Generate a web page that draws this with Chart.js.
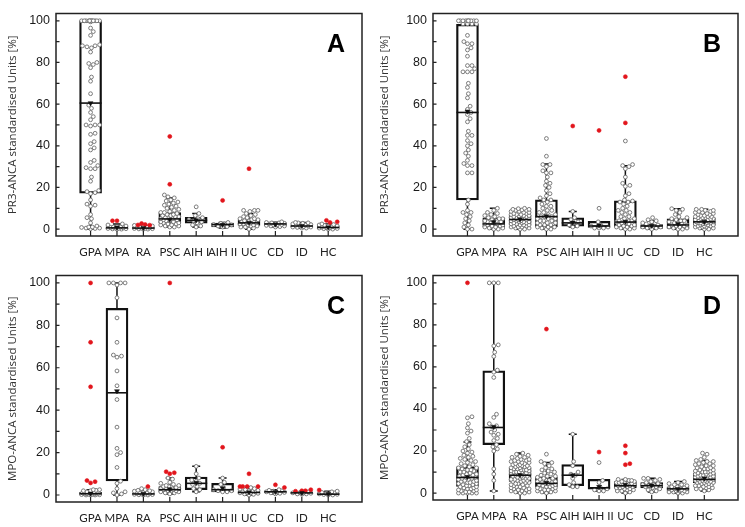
<!DOCTYPE html>
<html>
<head>
<meta charset="utf-8">
<script src="https://cdn.jsdelivr.net/npm/chart.js@4.4.0/dist/chart.umd.min.js"></script>
<style>
  body { margin: 0; background: #fff; }
  .panel { position: absolute; }
</style>
</head>
<body>
<div class="panel" style="left:0;top:0"><canvas id="chartA" width="372" height="262"></canvas></div>
<div class="panel" style="left:372px;top:0"><canvas id="chartB" width="373" height="262"></canvas></div>
<div class="panel" style="left:0;top:262px"><canvas id="chartC" width="372" height="265"></canvas></div>
<div class="panel" style="left:372px;top:262px"><canvas id="chartD" width="373" height="265"></canvas></div>
<script>
const categories = ['GPA', 'MPA', 'RA', 'PSC', 'AIH I', 'AIH II', 'UC', 'CD', 'ID', 'HC'];
const yTicks = [0, 10, 20, 30, 40, 50, 60, 70, 80, 90, 100];

// A: PR3-ANCA, assay 1
const aLow = [0, 0, 0, 1, 1, 0.5, 0, 1, 0.5, 0];
const aQ1 = [17.2, 0.2, 0.1, 2.9, 2.9, 1.1, 1.8, 1.5, 1, 0.3];
const aMed = [60.5, 0.6, 0.5, 4.9, 4.2, 2.2, 3, 2.5, 1.5, 0.8];
const aQ3 = [100, 1.2, 1, 8, 5.7, 2.9, 4.5, 3, 2, 1.5];
const aHigh = [100, 2.5, 1.8, 15, 7.5, 3.2, 7.5, 3.3, 3.2, 2.5];
const aMean = [60.5, 0.8, 0.6, 4.6, 4.3, 2.1, 3.1, 2.3, 1.6, 0.9];
const aPoints = [
  [100,100,100,100,100,100,100,100,100,100,100,100,99.5,96.5,94.8,93,88.5,88,88,87.5,87,85,80,79.5,79,77.5,73,71,65,59.5,58,56,54,52.5,50,50,50,49.5,46,45.5,42,41,39,38,33,32,30.5,29.5,29,29,25,23,18.5,18,17.5,17,14,12,11.5,11,7,5.5,5,3,1.5,1,1,0.8,0.5,0.5,0.3,0.2],
  [2.5,2,1.5,1.2,1,1,0.8,0.6,0.5,0.4,0.3,0.2,0.1,0,0],
  [1.8,1.5,1.2,1,1,0.8,0.6,0.5,0.4,0.3,0.2,0.1,0,0],
  [16.4,15.5,15,14,13.5,13,12.5,12,11.5,11,10.5,10,9.5,9,8.5,8,8,7.5,7,7,6.5,6.5,6,6,5.5,5.5,5,5,4.5,4.5,4,4,3.5,3.5,3,3,2.5,2.5,2,2,1.5,1.5,1,1],
  [10.7,7.5,6.5,5.5,5,4.5,4,3.5,3,2,1.5,1],
  [3.2,2.8,2.5,2.2,2,1.5,1.2,1],
  [9,9,9,8.5,7.5,7,6.5,6,5.5,5,5,4.5,4.5,4,4,3.5,3.5,3,3,3,2.5,2.5,2,2,1.5,1.5,1,1,0.5,0],
  [3.5,3.2,3,3,2.8,2.5,2.5,2.2,2,2,1.8,1.5,1.5,1.2,1],
  [3.2,3,3,2.8,2.5,2.2,2,1.8,1.5,1.5,1.2,1,1,0.8,0.5,0.5],
  [2.5,2.2,2,1.8,1.5,1.5,1.2,1,1,0.8,0.6,0.5,0.3,0.2,0,0]
];
const aRed = [[], [4, 4], [2.7, 2.2, 2, 1.9], [44.5, 21.5], [], [13.8], [29], [], [], [4.2, 3.5, 3.2]];

// B: PR3-ANCA, assay 2
const bLow = [0, 0, 0, 0, 1, 0.5, 0, 0, 0, 0];
const bQ1 = [14, 1.1, 2, 1.1, 1.4, 0.8, 1.1, 0.3, 0.3, 1.9];
const bMed = [56, 2.5, 4.6, 6, 3, 1.5, 3.4, 1.5, 2, 3.5];
const bQ3 = [98.3, 5.4, 6.6, 14.1, 5.4, 3.8, 13.6, 2.2, 4.9, 5.4];
const bHigh = [100, 10, 9.8, 31.3, 8.5, 3.8, 30.4, 4, 9.8, 9.5];
const bMean = [56.5, 3.5, 4.8, 6.2, 3.2, 1.8, 3.6, 1.7, 2.5, 3.6];
const bPoints = [
  [100,100,100,100,100,100,100,100,100,100,98.5,98.5,98.5,98.5,93,90,89,89,87,86,83,78.5,78.5,77,75.5,75.5,75.5,70,68,65,63,59,57.5,56,55,53,51.5,47,45,45,42.5,41,40,38,36.5,35,33,31.5,30.5,30.5,27,27,14,12,9,8,8,7,6,5,4,3,2,1,0,0],
  [10,9,8,7.5,7,6.5,6,5.5,5,5,4.5,4,4,3.5,3.5,3,3,2.5,2.5,2,2,1.5,1.5,1,1,0.5,0.5,0,0],
  [10,9.8,9.5,9.5,9.2,9,9,8.5,8.5,8,8,7.5,7.5,7,7,7,6.5,6.5,6,6,6,5.5,5.5,5.5,5,5,5,4.5,4.5,4.5,4,4,4,3.5,3.5,3.5,3,3,3,2.5,2.5,2,2,2,1.5,1.5,1,1,1,0.5,0.5,0,0],
  [43.5,35,31,31,30,28,27,27,25,23,22,21,20,18.5,17,16,15,14,14,13,12,11,11,10,9,9,8,8,7,7,6,6,6,5,5,5,4,4,4,3,3,3,2,2,2,1,1,1,0.5,0,0],
  [8.5,5.5,4.5,3.5,3,2,1.5,1],
  [10,3.5,2,1.5,1,0.5,0.5,0.5],
  [42.3,31,30.5,30,29,25,22,21,20.5,17,16,14,13.5,13,13,12,11,10,9,9,8,8,7,6,6,5,5,4,4,4,3.5,3,3,2.5,2,2,1.5,1.5,1,1,0.5,0.5,0,0],
  [5.5,4.5,4,3.5,3,2.5,2,1.5,1.5,1,1,0.5,0.5,0],
  [9.8,9.5,9,8,7,6,5.5,5,4.5,4,4,3.5,3,3,2.5,2,2,1.5,1.5,1,1,0.5,0.5,0,0],
  [9.5,9.5,9,9,8.5,8.5,8,8,7.5,7.5,7,7,6.5,6.5,6,6,6,5.5,5.5,5.5,5,5,5,4.5,4.5,4.5,4,4,4,4,3.5,3.5,3.5,3.5,3,3,3,3,2.5,2.5,2.5,2,2,2,1.5,1.5,1.5,1,1,1,0.5,0.5,0,0]
];
const bRed = [[], [], [], [], [49.5], [47.4], [73.2, 51], [], [], []];

// C: MPO-ANCA, assay 1
const cLow = [0, 0, 0, 0.5, 1.5, 1.5, 0, 0.5, 0.3, 0];
const cQ1 = [0.2, 6.6, 0.2, 1.5, 2.5, 1.5, 0.8, 1, 0.5, 0];
const cMed = [0.6, 48.2, 0.5, 2.5, 5.5, 2.5, 1.2, 1.5, 1, 0.4];
const cQ3 = [1.3, 88, 1, 4, 8.5, 5.5, 2, 2, 1.5, 1];
const cHigh = [2.5, 100, 2.5, 8, 13.5, 8, 3.5, 2.5, 1.5, 1.8];
const cMean = [0.7, 49, 0.6, 2.8, 5.8, 3.2, 1.3, 1.5, 1, 0.5];
const cPoints = [
  [2.5,2.5,2.2,2,2,1.8,1.5,1.5,1.2,1.2,1,1,1,0.8,0.8,0.6,0.5,0.5,0.4,0.3,0.2,0.2,0.1,0,0,0],
  [100,100,100,100,99,93,83.5,72,66,65.5,65,58.5,51.5,45,32,22,20,19,13,6.5,5.5,3,1.5,1,0.5,0],
  [3,2.5,2.2,2,1.8,1.5,1.2,1,1,0.8,0.6,0.5,0.4,0.3,0.2,0.1,0,0],
  [8,7.5,6,5.5,5,4.5,4.5,4,4,3.5,3.5,3,3,3,2.5,2.5,2.5,2,2,2,1.5,1.5,1,1,0.5],
  [13.5,10,8,7,6.5,5.5,5,4,3,2.5,1.5],
  [8,6,5,3.5,2.5,2,2,1.5,1.5],
  [3.5,3,2.8,2.5,2.2,2,1.8,1.5,1.5,1.2,1,1,0.8,0.5,0.3,0],
  [2.5,2.2,2,1.8,1.5,1.5,1.2,1,0.8,0.5],
  [1.5,1.2,1,1,0.8,0.5,0.5,0.3],
  [1.8,1.5,1.2,1,0.8,0.6,0.5,0.3,0.2,0,0]
];
const cRed = [[100, 72, 51, 6.8, 6.3, 5.7], [], [4], [100, 11, 10.5, 10], [], [22.5], [10, 4, 4, 4, 4], [4.8, 3.5], [2.5, 2, 2, 1.8], [2.3]];

// D: MPO-ANCA, assay 2
const dLow = [0, 1, 0, 0, 3, 1, 0, 0.5, 0, 1];
const dQ1 = [3.2, 23, 5.5, 3, 3.5, 1.8, 2.5, 2.5, 1, 5];
const dMed = [7.4, 31.2, 8.5, 4.6, 8.5, 2.5, 3.5, 3.5, 2, 6.5];
const dQ3 = [12.5, 58.2, 11.8, 7.5, 13.5, 6.5, 5.5, 5, 3, 9.5];
const dHigh = [24.3, 100, 19, 14.5, 28, 6.5, 6.5, 7, 5.5, 15.5];
const dMean = [7.7, 31.5, 8.6, 5, 8.5, 3, 4, 3.6, 2, 7];
const dPoints = [
  [36.3,35.8,33,31,29.5,28.5,26,24.5,23,22,21,20,19.5,19,18,17.5,17,16.5,16,15.5,15,14.5,14,13.5,13,12.5,12,12,11.5,11,11,10.5,10,10,9.5,9,9,8.5,8.5,8,8,7.5,7.5,7,7,6.5,6.5,6,6,5.5,5.5,5,5,4.5,4.5,4,4,3.5,3.5,3,3,2.5,2.5,2,2,1.5,1.5,1,1,0.5,0.5,0,0,0,0,0],
  [100,100,100,70.5,70,67,65,58.5,57.5,55,37.5,36,33,32,31.5,30,29,28,27.5,26,25,23,22,21,20,11.5,9,6,1],
  [19,18.5,18,17.5,17,17,16.5,16,16,15.5,15.5,15,15,14.5,14.5,14,14,13.5,13.5,13,13,13,12.5,12.5,12,12,12,11.5,11.5,11,11,11,10.5,10.5,10,10,10,9.5,9.5,9,9,9,8.5,8.5,8,8,8,7.5,7.5,7,7,7,6.5,6.5,6,6,6,5.5,5.5,5,5,4.5,4.5,4,4,3.5,3.5,3,3,2.5,2.5,2,2,1.5,1.5,1,1,0.5,0.5,0,0],
  [18.5,15,14.5,14,13,12,11.5,11,10.5,10,9.5,9,8.5,8,8,7.5,7,7,6.5,6,6,5.5,5.5,5,5,4.5,4.5,4,4,3.5,3.5,3,3,2.5,2.5,2,2,1.5,1.5,1,1,0.5,0.5,0],
  [28,15,13,10,9,8.5,7,5,4,3,3],
  [14.5,6,5,3,2,1.5,1,1],
  [6.5,6.5,6,6,5.5,5.5,5,5,5,4.5,4.5,4,4,4,3.5,3.5,3.5,3,3,3,2.5,2.5,2,2,1.5,1.5,1,1,0.5,0],
  [7,7,6.5,6,5.5,5,4.5,4,4,3.5,3.5,3,3,2.5,2,1.5,1,0.5],
  [5.5,5,4.5,4,4,3.5,3,3,2.5,2.5,2,2,2,1.5,1.5,1.5,1,1,1,0.5,0.5,0.5,0,0],
  [19,18.5,17,16,15.5,15,15,14.5,14,14,13.5,13,13,12.5,12,12,11.5,11.5,11,11,10.5,10.5,10,10,10,9.5,9.5,9,9,9,8.5,8.5,8.5,8,8,8,7.5,7.5,7.5,7,7,7,6.5,6.5,6.5,6,6,6,5.5,5.5,5.5,5,5,5,4.5,4.5,4,4,3.5,3.5,3,3,2.5,2.5,2,2,1.5,1]
];
const dRed = [[100], [], [], [78], [], [19.5], [22.5, 19, 14, 13.5], [], [], []];

const PR3_TITLE = 'PR3-ANCA standardised Units [%]';
const MPO_TITLE = 'MPO-ANCA standardised Units [%]';

const panels = [
  {id: 'chartA', letter: 'A', title: PR3_TITLE, low: aLow, q1: aQ1, med: aMed, q3: aQ3, high: aHigh, mean: aMean, points: aPoints, red: aRed, yw: 56, xh: 26, top: 5, right: 10},
  {id: 'chartB', letter: 'B', title: PR3_TITLE, low: bLow, q1: bQ1, med: bMed, q3: bQ3, high: bHigh, mean: bMean, points: bPoints, red: bRed, yw: 61, xh: 26, top: 4, right: 7},
  {id: 'chartC', letter: 'C', title: MPO_TITLE, low: cLow, q1: cQ1, med: cMed, q3: cQ3, high: cHigh, mean: cMean, points: cPoints, red: cRed, yw: 56, xh: 25, top: 5, right: 10},
  {id: 'chartD', letter: 'D', title: MPO_TITLE, low: dLow, q1: dQ1, med: dMed, q3: dQ3, high: dHigh, mean: dMean, points: dPoints, red: dRed, yw: 61, xh: 27, top: 5, right: 7}
];

// beeswarm layout (pixels per unit used only for dodging the dots sideways)
const PX_X = 29.3, PX_Y = 2.17, DOT = 4.4, SPREAD = 10;
function swarm(items, cat) {
  const placed = [];
  items.slice().sort((a, b) => a.v - b.v).forEach(it => {
    let best = 0, bestScore = -1;
    for (let k = 0; k <= 2 * SPREAD; k++) {
      const off = (k % 2 ? 1 : -1) * Math.ceil(k / 2);
      let minD = Infinity;
      placed.forEach(p => {
        const d = Math.hypot(off - p.off, (it.v - p.v) * PX_Y);
        if (d < minD) minD = d;
      });
      if (minD >= DOT) { best = off; break; }
      if (minD > bestScore) { bestScore = minD; best = off; }
    }
    placed.push({v: it.v, off: best, red: it.red});
  });
  return placed.map(p => ({x: cat + p.off / PX_X, y: p.v, red: p.red}));
}

function makeChart(p) {
  const grey = [], red = [];
  categories.forEach((c, i) => {
    const items = p.points[i].map(v => ({v, red: false})).concat(p.red[i].map(v => ({v, red: true})));
    swarm(items, i).forEach(pt => (pt.red ? red : grey).push({x: pt.x, y: pt.y}));
  });

  const boxPlugin = {
    id: 'boxWhisker',
    beforeDatasetsDraw(chart) {
      const {ctx, scales: {x, y}} = chart;
      ctx.save();
      ctx.strokeStyle = '#111';
      ctx.lineWidth = 1.5;
      categories.forEach((c, i) => {
        const cx = x.getPixelForValue(i);
        ctx.beginPath();
        ctx.moveTo(cx, y.getPixelForValue(p.q3[i]));
        ctx.lineTo(cx, y.getPixelForValue(p.high[i]));
        ctx.moveTo(cx, y.getPixelForValue(p.q1[i]));
        ctx.lineTo(cx, y.getPixelForValue(p.low[i]));
        if (p.high[i] > p.q3[i]) {
          ctx.moveTo(cx - 4, y.getPixelForValue(p.high[i]));
          ctx.lineTo(cx + 4, y.getPixelForValue(p.high[i]));
        }
        if (p.low[i] < p.q1[i]) {
          ctx.moveTo(cx - 4, y.getPixelForValue(p.low[i]));
          ctx.lineTo(cx + 4, y.getPixelForValue(p.low[i]));
        }
        ctx.stroke();
      });
      ctx.restore();
    },
    afterDatasetsDraw(chart) {
      const {ctx, scales: {x, y}} = chart;
      ctx.save();
      ctx.strokeStyle = '#111';
      ctx.lineWidth = 1.6;
      categories.forEach((c, i) => {
        const cx = x.getPixelForValue(i);
        const my = y.getPixelForValue(p.med[i]);
        ctx.beginPath();
        ctx.moveTo(cx - 11, my);
        ctx.lineTo(cx + 11, my);
        ctx.stroke();
      });
      ctx.restore();
    },
    afterDraw(chart) {
      const {ctx, chartArea: a, scales: {x, y}} = chart;
      ctx.save();
      ctx.strokeStyle = '#222';
      ctx.lineWidth = 1.5;
      ctx.strokeRect(a.left, a.top, a.right - a.left, a.bottom - a.top);
      ctx.lineWidth = 1.2;
      ctx.beginPath();
      yTicks.forEach(v => {
        const py = y.getPixelForValue(v);
        ctx.moveTo(a.left, py);
        ctx.lineTo(a.left + 3.5, py);
      });
      categories.forEach((c, i) => {
        const px = x.getPixelForValue(i);
        ctx.moveTo(px, a.bottom);
        ctx.lineTo(px, a.bottom - 5);
      });
      ctx.stroke();
      ctx.fillStyle = '#000';
      ctx.font = 'bold 25px "Liberation Sans", Arial, sans-serif';
      ctx.textAlign = 'right';
      ctx.textBaseline = 'alphabetic';
      ctx.fillText(p.letter, a.right - 17, a.top + 38);
      ctx.restore();
    }
  };

  return new Chart(document.getElementById(p.id).getContext('2d'), {
    type: 'scatter',
    data: {
      datasets: [
        {
          type: 'bar',
          data: categories.map((c, i) => ({x: i, y: [p.q1[i], p.q3[i]]})),
          backgroundColor: 'rgba(0,0,0,0)',
          borderColor: '#111',
          borderWidth: 1.6,
          borderSkipped: false,
          barThickness: 22,
          order: 10
        },
        {
          data: grey,
          pointRadius: 1.9,
          pointBorderWidth: 0.9,
          pointBorderColor: '#6e6e6e',
          pointBackgroundColor: '#fff',
          order: 3
        },
        {
          data: red,
          pointRadius: 2,
          pointBorderWidth: 0.6,
          pointBorderColor: '#e2151c',
          pointBackgroundColor: '#e2151c',
          order: 2
        },
        {
          data: categories.map((c, i) => ({x: i, y: p.mean[i]})),
          pointStyle: 'triangle',
          rotation: 180,
          pointRadius: 2.8,
          pointBorderWidth: 0.5,
          pointBorderColor: '#111',
          pointBackgroundColor: '#111',
          order: 1
        }
      ]
    },
    options: {
      responsive: false,
      animation: false,
      layout: {padding: {left: 0, top: p.top, right: p.right, bottom: 0}},
      plugins: {legend: {display: false}, tooltip: {enabled: false}},
      scales: {
        x: {
          type: 'linear',
          min: -0.73,
          max: 9.7,
          grid: {display: false, drawTicks: false},
          border: {display: false},
          afterBuildTicks: (s) => { s.ticks = categories.map((c, i) => ({value: i})); },
          afterFit: (s) => { s.height = p.xh; },
          ticks: {
            autoSkip: false,
            maxRotation: 0,
            padding: 9,
            color: '#222',
            font: {family: 'Lato, sans-serif', size: 11.5},
            callback: (v) => categories[v]
          }
        },
        y: {
          min: -3.3,
          max: 103.5,
          grid: {display: false, drawTicks: false},
          border: {display: false},
          afterBuildTicks: (s) => { s.ticks = yTicks.map(v => ({value: v})); },
          afterFit: (s) => { s.width = p.yw; },
          ticks: {
            padding: 6,
            color: '#1a1a1a',
            font: {family: '"Liberation Sans", Arial, sans-serif', size: 12.5},
            callback: (v) => (v % 20 === 0 ? v : '')
          },
          title: {
            display: true,
            text: p.title,
            color: '#333',
            padding: {top: 6, bottom: 0},
            font: {family: '"Open Sans", sans-serif', size: 11.5}
          }
        }
      }
    },
    plugins: [boxPlugin]
  });
}

panels.forEach(makeChart);
</script>
</body>
</html>
